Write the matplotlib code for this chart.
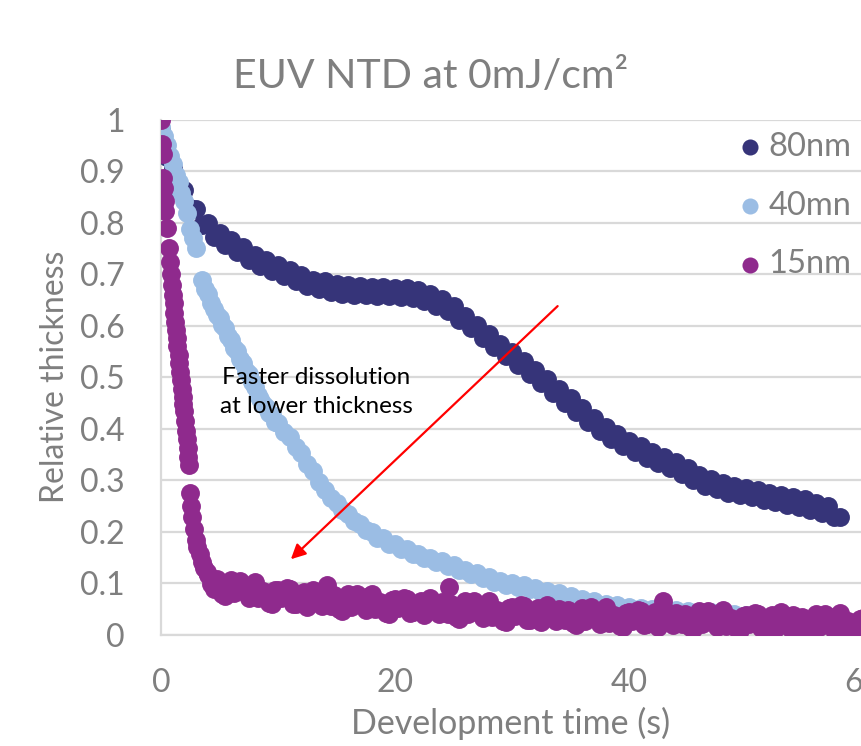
import matplotlib
matplotlib.use("Agg")
import matplotlib.pyplot as plt

plt.rcParams['font.family'] = ['Lato', 'DejaVu Sans']

GREY = '#7f7f7f'
GRID = '#d9d9d9'

# 80nm film
t_80 = [0, 0.5, 1, 1.5, 2, 2.5, 3, 3.5, 4, 4.5, 5, 5.5, 6, 6.5, 7, 7.5, 8, 8.5, 9, 9.5,
        10, 10.5, 11, 11.5, 12, 12.5, 13, 13.5, 14, 14.5, 15, 15.5, 16, 16.5, 17, 17.5, 18, 18.5, 19, 19.5,
        20, 20.5, 21, 21.5, 22, 22.5, 23, 23.5, 24, 24.5, 25, 25.5, 26, 26.5, 27, 27.5, 28, 28.5, 29, 29.5,
        30, 30.5, 31, 31.5, 32, 32.5, 33, 33.5, 34, 34.5, 35, 35.5, 36, 36.5, 37, 37.5, 38, 38.5, 39, 39.5,
        40, 40.5, 41, 41.5, 42, 42.5, 43, 43.5, 44, 44.5, 45, 45.5, 46, 46.5, 47, 47.5, 48, 48.5, 49, 49.5,
        50, 50.5, 51, 51.5, 52, 52.5, 53, 53.5, 54, 54.5, 55, 55.5, 56, 56.5, 57, 57.5, 58]
thk_80 = [0.980, 0.928, 0.905, 0.864, 0.863, 0.828, 0.827, 0.796, 0.799, 0.772, 0.779, 0.756, 0.766, 0.742, 0.752, 0.728, 0.738, 0.715, 0.727, 0.706,
          0.718, 0.696, 0.708, 0.686, 0.699, 0.677, 0.689, 0.671, 0.686, 0.666, 0.681, 0.662, 0.678, 0.660, 0.677, 0.659, 0.676, 0.658, 0.676, 0.657,
          0.674, 0.656, 0.673, 0.654, 0.670, 0.648, 0.662, 0.639, 0.652, 0.628, 0.639, 0.612, 0.618, 0.595, 0.601, 0.577, 0.584, 0.559, 0.565, 0.541,
          0.549, 0.524, 0.532, 0.506, 0.514, 0.488, 0.496, 0.469, 0.477, 0.451, 0.459, 0.433, 0.440, 0.414, 0.421, 0.396, 0.404, 0.381, 0.390, 0.367,
          0.377, 0.355, 0.366, 0.344, 0.355, 0.334, 0.345, 0.323, 0.335, 0.312, 0.323, 0.300, 0.311, 0.290, 0.302, 0.283, 0.295, 0.276, 0.289, 0.271,
          0.285, 0.267, 0.281, 0.262, 0.276, 0.258, 0.272, 0.253, 0.267, 0.248, 0.263, 0.243, 0.257, 0.236, 0.250, 0.229, 0.229]

# 40nm film
t_40 = [0, 0.25, 0.5, 0.75, 1, 1.25, 1.5, 1.75, 2, 2.25, 2.5, 2.75, 3,
        3.5, 3.75, 4, 4.25, 4.5, 4.75, 5, 5.25, 5.5, 5.75, 6, 6.25, 6.5, 6.75, 7, 7.25, 7.5, 7.75,
        8, 8.25, 8.5, 8.75, 9, 9.25, 9.5, 9.75, 10,
        10.5, 11, 11.5, 12, 12.5, 13, 13.5, 14, 14.5, 15, 15.5, 16, 16.5, 17, 17.5, 18, 18.5, 19, 19.5,
        20, 20.5, 21, 21.5, 22, 22.5, 23, 23.5, 24, 24.5, 25, 25.5, 26, 26.5, 27, 27.5, 28, 28.5, 29, 29.5,
        30, 30.5, 31, 31.5, 32, 32.5, 33, 33.5, 34, 34.5, 35, 35.5, 36, 36.5, 37, 37.5, 38, 38.5, 39, 39.5,
        40, 40.5, 41, 41.5, 42, 42.5, 43, 43.5, 44, 44.5, 45, 45.5, 46, 46.5, 47, 47.5, 48, 48.5, 49, 49.5,
        50, 51, 52, 53, 54, 55, 56, 57, 58, 59, 60, 61]
thk_40 = [0.985, 0.968, 0.950, 0.929, 0.913, 0.893, 0.878, 0.858, 0.842, 0.818, 0.788, 0.770, 0.750,
          0.688, 0.672, 0.662, 0.644, 0.632, 0.620, 0.614, 0.601, 0.596, 0.580, 0.572, 0.557, 0.551, 0.535, 0.528, 0.513, 0.507, 0.490,
          0.482, 0.465, 0.457, 0.448, 0.442, 0.430, 0.426, 0.414, 0.411,
          0.394, 0.385, 0.365, 0.354, 0.332, 0.318, 0.297, 0.282, 0.265, 0.257, 0.242, 0.235, 0.221, 0.216, 0.204, 0.200, 0.189, 0.188, 0.177,
          0.176, 0.166, 0.166, 0.157, 0.158, 0.149, 0.150, 0.141, 0.143, 0.134, 0.135, 0.126, 0.127, 0.118, 0.120, 0.110, 0.112, 0.103, 0.105, 0.097,
          0.100, 0.094, 0.097, 0.089, 0.091, 0.083, 0.086, 0.078, 0.081, 0.072, 0.076, 0.067, 0.070, 0.062, 0.065, 0.057, 0.061, 0.054, 0.058, 0.051,
          0.055, 0.049, 0.052, 0.047, 0.050, 0.045, 0.049, 0.044, 0.048, 0.043, 0.046, 0.041, 0.045, 0.040, 0.044, 0.039, 0.043, 0.037, 0.040, 0.035,
          0.039, 0.034, 0.035, 0.031, 0.032, 0.027, 0.029, 0.024, 0.025, 0.020, 0.021, 0.018]

# 15nm film, samples on the half-second grid
t_15 = [0, 0.07, 0.15, 0.2, 0.25, 0.3, 0.35, 0.5, 0.65, 0.8, 0.85, 0.95, 1.05, 1.1, 1.15, 1.2, 1.25, 1.35, 1.4, 1.5,
        1.55, 1.62, 1.7, 1.77, 1.85, 1.9, 1.97, 2.05, 2.12, 2.2, 2.27, 2.33, 2.4,
        2.45, 2.55, 2.65, 2.8, 2.95, 3.1, 3.3, 3.5, 3.7, 3.9,
        4, 4.5, 5, 5.5, 6, 6.5, 7, 7.5, 8, 8.5, 9, 9.5, 10, 10.5, 11, 11.5, 12, 12.5, 13, 13.5, 14, 14.2, 14.5,
        15, 15.5, 16, 16.5, 17, 17.5, 18, 18.5, 19, 19.5, 20, 20.5, 21, 21.5, 22, 22.5, 23, 23.5, 24, 24.5, 24.6,
        25, 25.5, 26, 26.5, 27, 27.5, 28, 28.5, 29, 29.5, 30, 30.5, 31, 31.5, 32, 32.5, 33, 33.5, 34, 34.5,
        35, 35.5, 36, 36.5, 37, 37.5, 38, 38.5, 39, 39.5, 40, 40.5, 41, 41.5, 42, 42.5, 42.9, 43, 43.5, 44, 44.5,
        45, 45.5, 46, 46.5, 47, 47.5, 48, 48.5, 49, 49.5, 50, 50.5, 51, 51.5, 52, 52.5, 53, 53.5, 54, 54.5,
        55, 55.5, 56, 56.5, 57, 57.5, 58, 58.5, 59, 59.5, 60, 60.5, 61, 61.5, 62]
thk_15 = [0.999, 0.953, 0.933, 0.887, 0.868, 0.842, 0.822, 0.789, 0.750, 0.724, 0.700, 0.678, 0.660, 0.645, 0.625, 0.608, 0.592, 0.576, 0.560, 0.544,
          0.527, 0.510, 0.494, 0.478, 0.461, 0.448, 0.435, 0.416, 0.396, 0.380, 0.363, 0.346, 0.330,
          0.275, 0.250, 0.229, 0.205, 0.185, 0.170, 0.158, 0.142, 0.130, 0.122,
          0.117, 0.090, 0.098, 0.075, 0.106, 0.085, 0.095, 0.071, 0.102, 0.074, 0.080, 0.060, 0.088, 0.074, 0.089, 0.061, 0.078, 0.055, 0.088, 0.063, 0.080, 0.097, 0.057,
          0.069, 0.047, 0.080, 0.059, 0.070, 0.048, 0.080, 0.052, 0.059, 0.040, 0.069, 0.055, 0.070, 0.044, 0.061, 0.038, 0.071, 0.047, 0.064, 0.041, 0.093,
          0.053, 0.032, 0.065, 0.044, 0.055, 0.033, 0.065, 0.037, 0.044, 0.025, 0.054, 0.041, 0.056, 0.030, 0.047, 0.025, 0.058, 0.034, 0.051, 0.029,
          0.041, 0.020, 0.053, 0.033, 0.044, 0.022, 0.054, 0.027, 0.035, 0.015, 0.045, 0.032, 0.047, 0.021, 0.039, 0.016, 0.065, 0.050, 0.026, 0.043, 0.021,
          0.034, 0.012, 0.046, 0.026, 0.038, 0.015, 0.048, 0.021, 0.029, 0.009, 0.039, 0.026, 0.041, 0.015, 0.033, 0.011, 0.044, 0.020, 0.038, 0.015,
          0.028, 0.007, 0.041, 0.020, 0.032, 0.010, 0.042, 0.015, 0.023, 0.003, 0.033, 0.020, 0.035, 0.009, 0.027]

# 15nm film, samples in between (quarter seconds)
t_15_mid = [4.25, 4.75, 5.25, 5.75, 6.25, 6.75, 7.25, 7.75, 8.25, 8.75, 9.25, 9.75, 10.25, 10.75, 11.25, 11.75, 12.25, 12.75, 13.25, 13.75,
            14.25, 14.75, 15.25, 15.75, 16.25, 16.75, 17.25, 17.75, 18.25, 18.75, 19.25, 19.75, 20.25, 20.75, 21.25, 21.75, 22.25, 22.75, 23.25, 23.75,
            24.25, 24.75, 25.25, 25.75, 26.25, 26.75, 27.25, 27.75, 28.25, 28.75, 29.25, 29.75, 30.25, 30.75, 31.25, 31.75, 32.25, 32.75, 33.25, 33.75,
            34.25, 34.75, 35.25, 35.75, 36.25, 36.75, 37.25, 37.75, 38.25, 38.75, 39.25, 39.75, 40.25, 40.75, 41.25, 41.75, 42.25, 42.75, 43.25, 43.75,
            44.25, 44.75, 45.25, 45.75, 46.25, 46.75, 47.25, 47.75, 48.25, 48.75, 49.25, 49.75, 50.25, 50.75, 51.25, 51.75, 52.25, 52.75, 53.25, 53.75,
            54.25, 54.75, 55.25, 55.75, 56.25, 56.75, 57.25, 57.75, 58.25, 58.75, 59.25, 59.75, 60.25, 60.75, 61.25, 61.75]
thk_15_mid = [0.098, 0.108, 0.079, 0.098, 0.081, 0.105, 0.085, 0.097, 0.071, 0.085, 0.062, 0.087, 0.071, 0.091, 0.061, 0.075, 0.083, 0.063, 0.075, 0.057,
              0.063, 0.077, 0.051, 0.071, 0.055, 0.080, 0.061, 0.075, 0.050, 0.064, 0.042, 0.068, 0.052, 0.072, 0.043, 0.058, 0.066, 0.046, 0.058, 0.041,
              0.047, 0.061, 0.035, 0.056, 0.040, 0.065, 0.046, 0.060, 0.035, 0.049, 0.027, 0.053, 0.037, 0.058, 0.029, 0.044, 0.052, 0.033, 0.045, 0.028,
              0.034, 0.049, 0.023, 0.044, 0.028, 0.054, 0.035, 0.049, 0.024, 0.039, 0.018, 0.043, 0.028, 0.049, 0.020, 0.035, 0.044, 0.024, 0.037, 0.020,
              0.026, 0.041, 0.016, 0.036, 0.021, 0.047, 0.029, 0.042, 0.018, 0.033, 0.012, 0.037, 0.022, 0.043, 0.014, 0.029, 0.038, 0.019, 0.031, 0.014,
              0.021, 0.035, 0.010, 0.031, 0.016, 0.041, 0.023, 0.037, 0.012, 0.027, 0.006, 0.031, 0.016, 0.037, 0.008, 0.023]

labels = ['80nm', '40mn', '15nm']
colors = ['#363479', '#9bbde4', '#8f2a8d']

fig = plt.figure(figsize=(8.61, 7.46), dpi=100)
ax = fig.add_axes([161 / 861, 111 / 746, 819 / 861, 515.5 / 746])

series = [(t_80, thk_80), (t_40, thk_40), (t_15 + t_15_mid, thk_15 + thk_15_mid)]
handles = []
for (t, y), c, lab in zip(series, colors, labels):
    h = ax.scatter(t, y, s=185, color=c, linewidths=0, label=lab, zorder=3)
    handles.append(h)

ax.set_xlim(0, 70)
ax.set_ylim(0, 1)
ax.set_xticks([0, 20, 40, 60])
ax.set_yticks([i / 10 for i in range(11)])
ax.set_yticklabels(['0', '0.1', '0.2', '0.3', '0.4', '0.5', '0.6', '0.7', '0.8', '0.9', '1'])
ax.tick_params(length=0, labelsize=23, labelcolor=GREY)
ax.tick_params(axis='y', pad=26)
ax.tick_params(axis='x', pad=24)
ax.grid(axis='y', color=GRID, lw=1.6, zorder=0)
ax.set_axisbelow(True)
for s in ['top', 'right']:
    ax.spines[s].set_visible(False)
for s in ['left', 'bottom']:
    ax.spines[s].set_color(GRID)
    ax.spines[s].set_linewidth(1.6)

ax.set_ylabel('Relative thickness', fontsize=23, color=GREY)
ax.yaxis.set_label_coords(-0.111, 0.5)
ax.set_xlabel('Development time (s)', fontsize=24.5, color=GREY)
ax.xaxis.set_label_coords((511 - 161) / 819, -0.14)

fig.text(431 / 861, 1 - 77 / 746, 'EUV NTD at 0mJ/cm²', ha='center', va='center',
         fontsize=29.5, color=GREY)

ax.text(13.3, 0.472, 'Faster dissolution\nat lower thickness', ha='center', va='center',
        fontsize=17.5, color='black', linespacing=1.45)
ax.annotate('', xy=(11.1, 0.147), xytext=(33.9, 0.638),
            arrowprops=dict(arrowstyle='-|>', color='#ff0000', lw=1.6,
                            mutation_scale=22, shrinkA=0, shrinkB=0))

ax.legend(handles=handles, loc='upper left', bbox_to_anchor=(734 / 861, 1 - 132 / 746),
          bbox_transform=fig.transFigure, frameon=False, fontsize=23.5, labelcolor=GREY,
          handletextpad=0.05, labelspacing=0.88, handlelength=1.0, borderpad=0, borderaxespad=0,
          markerscale=0.85)

fig.savefig('out.png', dpi=100)
